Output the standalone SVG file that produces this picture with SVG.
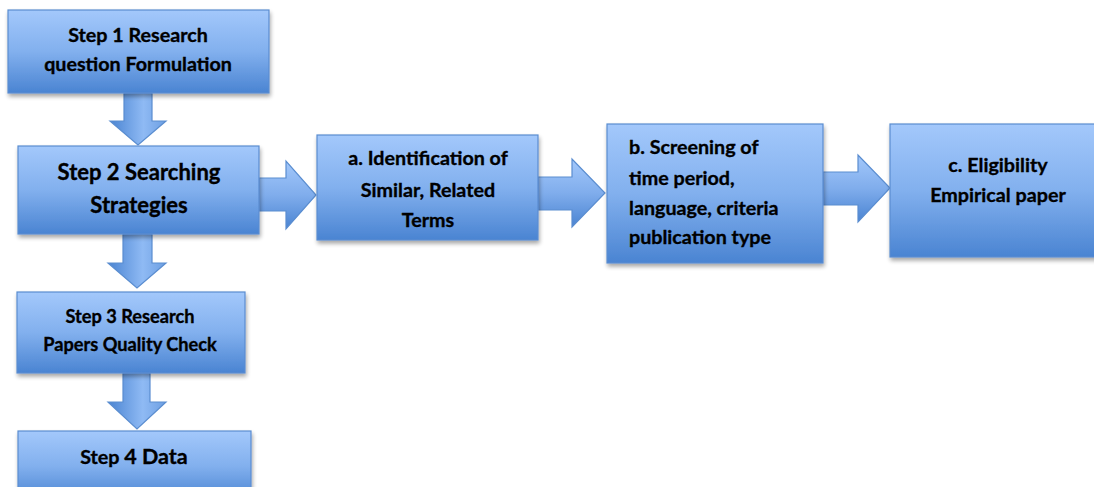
<svg xmlns="http://www.w3.org/2000/svg" width="1094" height="487" viewBox="0 0 1094 487">
<defs>
<linearGradient id="gBox" x1="0" y1="0" x2="0" y2="1">
<stop offset="0" stop-color="#a3c8fb"/>
<stop offset="0.5" stop-color="#82b0ee"/>
<stop offset="1" stop-color="#4a84d2"/>
</linearGradient>
<linearGradient id="gArrH" x1="0" y1="0" x2="0" y2="1">
<stop offset="0" stop-color="#a3c8fb"/>
<stop offset="0.5" stop-color="#80adec"/>
<stop offset="1" stop-color="#4a84d2"/>
</linearGradient>
<linearGradient id="gArrV" x1="0" y1="0" x2="1" y2="0">
<stop offset="0" stop-color="#4a84d2"/>
<stop offset="0.6" stop-color="#8fbaf4"/>
<stop offset="1" stop-color="#6d9fe2"/>
</linearGradient>
<filter id="sh" x="-10%" y="-10%" width="130%" height="140%">
<feGaussianBlur in="SourceAlpha" stdDeviation="2"/>
<feOffset dx="1" dy="3" result="b"/>
<feComponentTransfer><feFuncA type="linear" slope="0.35"/></feComponentTransfer>
<feMerge><feMergeNode/><feMergeNode in="SourceGraphic"/></feMerge>
</filter>
</defs>
<style>
.box{fill:url(#gBox);stroke:#5a8dd0;stroke-width:1.2;filter:url(#sh)}
.ah{fill:url(#gArrH);stroke:#5a8dd0;stroke-width:1.2}
.av{fill:url(#gArrV);stroke:#5a8dd0;stroke-width:1.2}
text{font-family:Lato,"Open Sans","Liberation Sans",sans-serif;font-weight:bold;fill:#000;stroke:#000;stroke-width:0.35}
.c{text-anchor:middle}
.s16{font-size:18.2px}
.s17{font-size:19.7px}
.s20{font-size:22px}
</style>
<rect width="1094" height="487" fill="#ffffff"/>
<g id="connectors">
<polygon class="av" points="124,93 152,93 152,121 166,121 138,145 110,121 124,121"/>
<polygon class="av" points="123,234 152,234 152,263 166,263 137,288 108,263 123,263"/>
<polygon class="av" points="123,373 150,373 150,402 166,402 137,429 108,402 123,402"/>
<polygon class="ah" points="259,178 286,178 286,161 316,195 286,229 286,211 259,211"/>
<polygon class="ah" points="538,177 572,177 572,159 605,193 572,227 572,210 538,210"/>
<polygon class="ah" points="823,172 858,172 858,155 890,188 858,222 858,205 823,205"/>
</g>
<g id="step1">
<rect class="box" x="8" y="10" width="261" height="83"/>
<text class="c s17" x="138" y="42">Step 1 Research</text>
<text class="c s17" x="138" y="71">question Formulation</text>
</g>
<g id="step2">
<rect class="box" x="18" y="146" width="241" height="88"/>
<text class="c s20" x="139" y="180">Step 2 Searching</text>
<text class="c s20" x="139" y="213">Strategies</text>
</g>
<g id="step3">
<rect class="box" x="17" y="292" width="228" height="81"/>
<text class="c s16" x="130" y="323">Step 3 Research</text>
<text class="c s16" x="130" y="351">Papers Quality Check</text>
</g>
<g id="step4">
<rect class="box" x="18" y="431" width="233" height="70"/>
<text class="c" x="134" y="464"><tspan class="s17">Step </tspan><tspan style="font-size:21.5px">4 Data</tspan></text>
</g>
<g id="a">
<rect class="box" x="317" y="135" width="221" height="105"/>
<text class="c s17" x="428" y="165">a. Identification of</text>
<text class="c s17" x="428" y="197">Similar, Related</text>
<text class="c s17" x="428" y="227">Terms</text>
</g>
<g id="b">
<rect class="box" x="607" y="124" width="216" height="139"/>
<text class="s17" x="629" y="154">b. Screening of</text>
<text class="s17" x="629" y="185">time period,</text>
<text class="s17" x="629" y="215">language, criteria</text>
<text class="s17" x="629" y="244">publication type</text>
</g>
<g id="c">
<rect class="box" x="890" y="124" width="210" height="133"/>
<text class="c s17" x="998" y="172">c. Eligibility</text>
<text class="c s17" x="998" y="202">Empirical paper</text>
</g>
</svg>
